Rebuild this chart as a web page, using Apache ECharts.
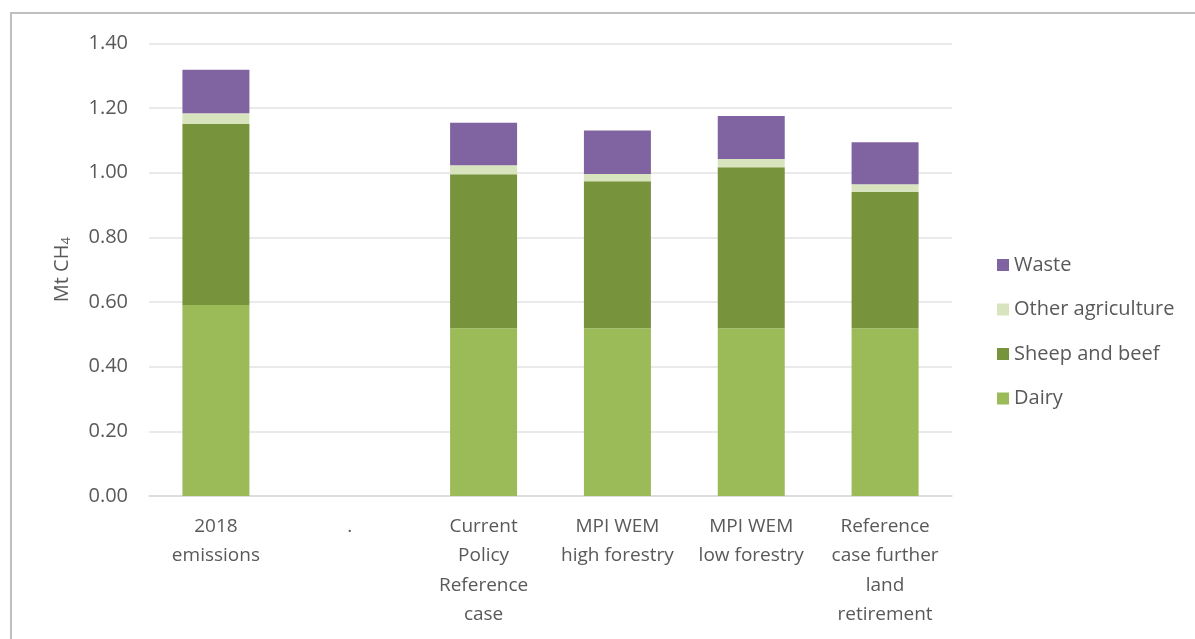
<!DOCTYPE html>
<html>
<head>
<meta charset="utf-8">
<script src="https://cdn.jsdelivr.net/npm/echarts@6/dist/echarts.min.js"></script>
<style>
html,body{margin:0;padding:0;background:#fff;}
#chart{position:absolute;left:0;top:0;width:1195px;height:639px;}
#frame{position:absolute;left:10px;top:12px;width:1200px;height:700px;border-top:2px solid #BFBFBF;border-left:2px solid #BFBFBF;pointer-events:none;}
</style>
</head>
<body>
<div id="chart"></div>
<div id="frame"></div>
<script>
const categories = ['2018\nemissions', '.', 'Current\nPolicy\nReference\ncase', 'MPI WEM\nhigh forestry', 'MPI WEM\nlow forestry', 'Reference\ncase further\nland\nretirement'];
const dairy = [0.591, null, 0.519, 0.519, 0.519, 0.519];
const sheepBeef = [0.560, null, 0.476, 0.454, 0.498, 0.421];
const otherAgriculture = [0.033, null, 0.028, 0.023, 0.025, 0.024];
const waste = [0.134, null, 0.131, 0.134, 0.133, 0.130];
const yTicks = [0, 0.2, 0.4, 0.6, 0.8, 1.0, 1.2, 1.4];

const FONT = 'Open Sans';
const TXT = '#595959';
const chart = echarts.init(document.getElementById('chart'));
function bar(name, data, color) {
  return {
    name: name, type: 'bar', stack: 'total', data: data, barWidth: 67,
    itemStyle: { color: color },
    emphasis: { disabled: true }
  };
}
chart.setOption({
  animation: false,
  textStyle: { fontFamily: FONT },
  grid: { left: 149, right: 243, top: 43.3, bottom: 143, containLabel: false },
  legend: {
    orient: 'vertical', left: 992, top: 250,
    itemWidth: 12, itemHeight: 12, itemGap: 24.5,
    icon: 'rect',
    data: ['Waste', 'Other agriculture', 'Sheep and beef', 'Dairy'],
    textStyle: { fontFamily: FONT, fontSize: 20, color: TXT, lineHeight: 20 }
  },
  xAxis: {
    type: 'category', data: categories,
    axisLine: { lineStyle: { color: '#D9D9D9', width: 1.5 } },
    axisTick: { show: false },
    axisLabel: { interval: 0, color: TXT, fontFamily: FONT, fontSize: 19, lineHeight: 29.3, margin: 16 }
  },
  yAxis: {
    type: 'value', min: yTicks[0], max: yTicks[yTicks.length - 1], interval: 0.2,
    name: 'Mt CH{sub|4}', nameLocation: 'middle', nameGap: 76, nameRotate: 90,
    nameTextStyle: {
      color: TXT, fontFamily: FONT, fontSize: 20,
      rich: { sub: { fontSize: 13, color: TXT, fontFamily: FONT, padding: [8, 0, 0, 0] } }
    },
    axisLine: { show: false },
    axisTick: { show: false },
    splitLine: { lineStyle: { color: '#E3E3E3', width: 1.5 } },
    axisLabel: { color: TXT, fontFamily: FONT, fontSize: 20, margin: 21, formatter: v => v.toFixed(2) }
  },
  series: [
    bar('Dairy', dairy, '#9BBB59'),
    bar('Sheep and beef', sheepBeef, '#77933C'),
    bar('Other agriculture', otherAgriculture, '#D7E4BD'),
    bar('Waste', waste, '#8064A2')
  ]
});
</script>
</body>
</html>
